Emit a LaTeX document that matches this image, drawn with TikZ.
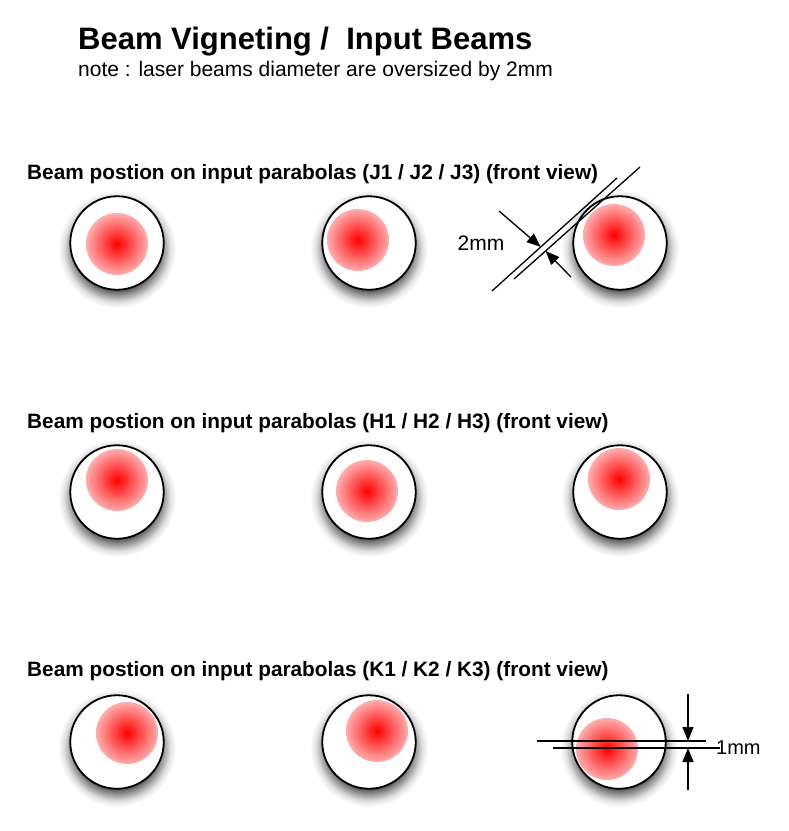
\documentclass[tikz,border=0pt]{standalone}
\usepackage{fontspec}
\setmainfont{Liberation Sans}
\usetikzlibrary{arrows.meta, calc}
\pgfdeclareradialshading{diskshadow}{\pgfpoint{0bp}{0bp}}{color(0bp)=(black!80); color(16bp)=(black!80); color(19.5bp)=(black!42); color(22.5bp)=(black!12); color(25bp)=(white); color(50bp)=(white)}

\begin{document}
\begin{tikzpicture}[x=1pt, y=-1pt,
        titulo/.style={anchor=base west, inner sep=0pt, font=\fontsize{31}{37}\selectfont\bfseries},
        nota/.style={anchor=base west, inner sep=0pt, font=\fontsize{21}{25}\selectfont},
        cabecera/.style={anchor=base west, inner sep=0pt, font=\fontsize{20.8}{25}\selectfont\bfseries},
        cota/.style={inner sep=0pt, font=\fontsize{21}{25}\selectfont},
        halo/.style={circle, shade, shading=diskshadow, minimum size=118pt, inner sep=0pt, yshift=-6pt},
        espejo/.style={circle, draw=black, line width=1.8pt, fill=white, minimum size=93.5pt, inner sep=0pt},
        haz/.style={circle, shade, inner color=red, outer color=red!32, minimum size=62pt, inner sep=0pt},
        linea/.style={line width=1.3pt},
        flecha/.style={line width=1.3pt, -{Triangle[length=14pt, width=11pt]}}
    ]
        \useasboundingbox[fill=white] (0,0) rectangle (789,831);

        % --- Titulos ---
        \node[titulo] (titulo) at (78,49) {Beam Vigneting / \ Input Beams};
        \node[nota] (nota) at (78,76) {note : laser beams diameter are oversized by 2mm};

        % ================= FILA J =================
        \node[cabecera] (cabJ) at (27,179) {Beam postion on input parabolas (J1 / J2 / J3) (front view)};

        \node[halo] (j1s) at (117,243) {};
        \node[halo] (j2s) at (369,243) {};
        \node[halo] (j3s) at (620,243) {};
        \node[espejo] (j1) at (117,243) {};
        \node[espejo] (j2) at (369,243) {};
        \node[espejo] (j3) at (620,243) {};
        \node[haz] (j1b) at (117,244) {};
        \node[haz] (j2b) at (358,240) {};
        \node[haz] (j3b) at (614,235) {};

        % Cota de 2mm sobre J3
        \coordinate (la1) at (617,178);
        \coordinate (la2) at (492,291);
        \coordinate (lb1) at (640,167);
        \coordinate (lb2) at (514,279);
        \draw[linea] (la1) -- (la2);
        \draw[linea] (lb1) -- (lb2);
        \coordinate (pa) at (499,211);
        \coordinate (pb) at (571,277);
        \draw[flecha] (pa) -- ($(la1)!0.61!(la2)$);
        \draw[flecha] (pb) -- ($(lb1)!0.75!(lb2)$);
        \node[cota] (dos) at (481,243) {2mm};

        % ================= FILA H =================
        \node[cabecera] (cabH) at (27,428) {Beam postion on input parabolas (H1 / H2 / H3) (front view)};

        \node[halo] (h1s) at (117,492) {};
        \node[halo] (h2s) at (369,492) {};
        \node[halo] (h3s) at (620,492) {};
        \node[espejo] (h1) at (117,492) {};
        \node[espejo] (h2) at (369,492) {};
        \node[espejo] (h3) at (620,492) {};
        \node[haz] (h1b) at (117,480) {};
        \node[haz] (h2b) at (367,491) {};
        \node[haz] (h3b) at (619,479) {};

        % ================= FILA K =================
        \node[cabecera] (cabK) at (27,676) {Beam postion on input parabolas (K1 / K2 / K3) (front view)};

        \node[halo] (k1s) at (117,742) {};
        \node[halo] (k2s) at (369,742) {};
        \node[halo] (k3s) at (619,742) {};
        \node[espejo] (k1) at (117,742) {};
        \node[espejo] (k2) at (369,742) {};
        \node[espejo] (k3) at (619,742) {};
        \node[haz] (k1b) at (127,733) {};
        \node[haz] (k2b) at (377,731) {};
        \node[haz] (k3b) at (607,749) {};

        % Cota de 1mm sobre K3
        \coordinate (ka1) at (537,741);
        \coordinate (ka2) at (706,741);
        \coordinate (kb1) at (553,748);
        \coordinate (kb2) at (720,748);
        \draw[linea] (ka1) -- (ka2);
        \draw[linea] (kb1) -- (kb2);
        \coordinate (ta) at (688,694);
        \coordinate (tb) at (688,790);
        \draw[flecha] (ta) -- (688,741);
        \draw[flecha] (tb) -- (688,748);
        \node[cota, anchor=west, font=\fontsize{20}{24}\selectfont] (uno) at (716,748) {1mm};

    \end{tikzpicture}
\end{document}
